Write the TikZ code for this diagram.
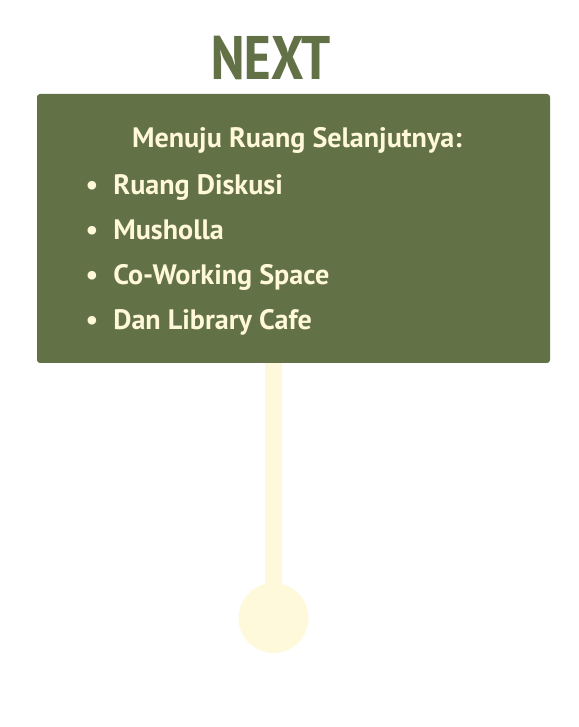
\documentclass[tikz,border=0pt]{standalone}
\usepackage{fontspec}
\setmainfont{PT Sans}
\newfontfamily\narrowfont{PT Sans Narrow}
\definecolor{signgreen}{RGB}{99,113,70}
\definecolor{signcream}{RGB}{255,248,217}
\definecolor{polecream}{RGB}{255,249,220}
\begin{document}
\begin{tikzpicture}
            \useasboundingbox (0.000000,0.000000) rectangle (11.580000,14.540000);
            {\bfseries

            % Drawing pole
            \fill [polecream] (5.300000,2.180000) rectangle (5.640000,7.400000);%

            % Drawing foot of pole
            \fill [polecream] (5.470000,2.180000) circle (0.700000);%

            % Drawing board
            \fill [signgreen, rounded corners=0.060000cm] (0.740000,7.280000) rectangle (11.000000,12.660000);%

            % Marking title
            \node (next) at (5.420000,12.940000) [anchor=base, text=signgreen, font=\narrowfont\bfseries\fontsize{35}{40}\selectfont] {NEXT};%

            % Marking heading
            \node (head) at (5.940000,11.580000) [anchor=base, text=signcream, font=\fontsize{16}{19}\selectfont] {Menuju Ruang Selanjutnya:};%

            % Marking items
            \node (b1) at (1.840000,10.640000) [anchor=base, text=signcream, font=\fontsize{16}{19}\selectfont] {•};%
            \node (i1) at (2.260000,10.640000) [anchor=base west, inner xsep=0pt, text=signcream, font=\fontsize{16}{19}\selectfont] {Ruang Diskusi};%
            \node (b2) at (1.840000,9.740000) [anchor=base, text=signcream, font=\fontsize{16}{19}\selectfont] {•};%
            \node (i2) at (2.260000,9.740000) [anchor=base west, inner xsep=0pt, text=signcream, font=\fontsize{16}{19}\selectfont] {Musholla};%
            \node (b3) at (1.840000,8.840000) [anchor=base, text=signcream, font=\fontsize{16}{19}\selectfont] {•};%
            \node (i3) at (2.260000,8.840000) [anchor=base west, inner xsep=0pt, text=signcream, font=\fontsize{16}{19}\selectfont] {Co-Working Space};%
            \node (b4) at (1.840000,7.940000) [anchor=base, text=signcream, font=\fontsize{16}{19}\selectfont] {•};%
            \node (i4) at (2.260000,7.940000) [anchor=base west, inner xsep=0pt, text=signcream, font=\fontsize{16}{19}\selectfont] {Dan Library Cafe};%
            }
\end{tikzpicture}
\end{document}
